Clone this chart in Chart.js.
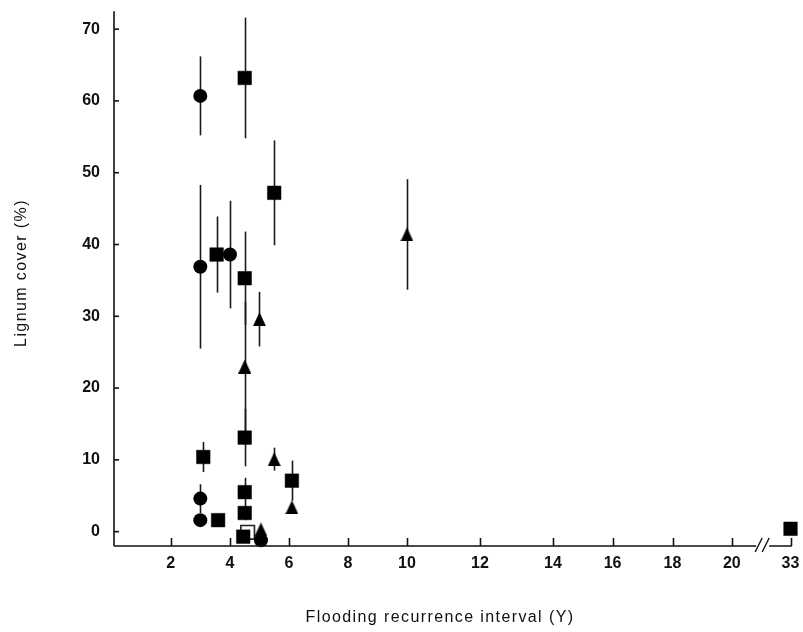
<!DOCTYPE html>
<html><head><meta charset="utf-8">
<script src="https://cdn.jsdelivr.net/npm/chart.js@4/dist/chart.umd.min.js"></script>
<style>html,body{margin:0;padding:0;background:#fff}#wrap{width:803px;height:632px;position:relative}</style>
</head><body><div id="wrap"><canvas id="c" width="803" height="632"></canvas></div>
<script>
// ---- data ----
const xTickValues = [2, 4, 6, 8, 10, 12, 14, 16, 18, 20, 33];
const yTickValues = [0, 10, 20, 30, 40, 50, 60, 70];

const circleX   = [3, 3, 4, 3, 3, 5.05];
const circleY   = [60.7, 36.9, 38.6, 4.6, 1.6, -1.2];
const circleErr = [5.5, 11.4, 7.5, 2.0, 0, 0];

const squareX   = [4.5, 5.5, 3.55, 4.5, 4.5, 3.1, 6.1, 4.5, 4.5, 3.6, 4.45, 33];
const squareY   = [63.2, 47.2, 38.6, 35.3, 13.1, 10.4, 7.1, 5.5, 2.6, 1.6, -0.7, 0.4];
const squareErr = [8.4, 7.3, 5.3, 6.5, 4.0, 2.1, 2.8, 2.0, 1.0, 0, 0, 0];

const openSquareX = [4.6];
const openSquareY = [-0.1];

const triangleX   = [10, 5.0, 4.5, 5.5, 6.1, 5.05];
const triangleY   = [41.4, 29.6, 23.0, 10.1, 3.4, 0.3];
const triangleErr = [7.7, 3.8, 9.0, 1.6, 0, 0];

// ---- axis calibration of the original (uneven, broken x axis) ----
const xKnotValues = [0, 2, 4, 6, 8, 10, 12, 14, 16, 18, 20, 33, 33.1];
const xKnotFracs  = [0, 0.0836, 0.1711, 0.2581, 0.3451, 0.4322, 0.5398, 0.6475, 0.7356, 0.8240, 0.9115, 0.9981, 1];

function interp(v, a, b) {
  if (v <= a[0]) return b[0] + (v - a[0]) * (b[1] - b[0]) / (a[1] - a[0]);
  for (let i = 1; i < a.length; i++) {
    if (v <= a[i]) return b[i - 1] + (v - a[i - 1]) * (b[i] - b[i - 1]) / (a[i] - a[i - 1]);
  }
  const n = a.length - 1;
  return b[n] + (v - a[n]) * (b[n] - b[n - 1]) / (a[n] - a[n - 1]);
}

class BrokenScale extends Chart.LinearScale {
  getPixelForValue(value) {
    return this.getPixelForDecimal(interp(value, xKnotValues, xKnotFracs));
  }
  getValueForPixel(pixel) {
    const d = (pixel - this._startPixel) / this._length;
    return interp(d, xKnotFracs, xKnotValues);
  }
}
BrokenScale.id = 'broken';
BrokenScale.defaults = Chart.LinearScale.defaults;
Chart.register(BrokenScale);

function pts(xs, ys, es) { return xs.map((x, i) => ({ x: x, y: ys[i], err: es ? es[i] : 0 })); }

const tri = document.createElement('canvas');
tri.width = 13; tri.height = 14;
(function () { const t = tri.getContext('2d'); t.fillStyle = '#000'; t.beginPath(); t.moveTo(6.5, 0); t.lineTo(13, 14); t.lineTo(0, 14); t.closePath(); t.fill(); })();

const INK = '#111';
const errorBars = {
  id: 'errorBars',
  beforeDatasetsDraw(chart) {
    const ctx = chart.ctx, xs = chart.scales.x, ys = chart.scales.y;
    ctx.save(); ctx.strokeStyle = '#1a1a1a'; ctx.lineWidth = 1.6;
    chart.data.datasets.forEach(ds => ds.data.forEach(p => {
      if (!p.err) return;
      const px = Math.round(xs.getPixelForValue(p.x)) + 0.5;
      ctx.beginPath();
      ctx.moveTo(px, ys.getPixelForValue(p.y + p.err));
      ctx.lineTo(px, ys.getPixelForValue(p.y - p.err));
      ctx.stroke();
    }));
    ctx.restore();
  }
};

const axesDraw = {
  id: 'axesDraw',
  afterDraw(chart) {
    const ctx = chart.ctx, a = chart.chartArea, xs = chart.scales.x, ys = chart.scales.y;
    ctx.save();
    ctx.strokeStyle = INK; ctx.lineWidth = 1.6;
    const by = a.bottom;
    // y axis
    ctx.beginPath(); ctx.moveTo(a.left, a.top); ctx.lineTo(a.left, by); ctx.stroke();
    yTickValues.forEach(v => { const py = ys.getPixelForValue(v); ctx.beginPath(); ctx.moveTo(a.left, py); ctx.lineTo(a.left + 5, py); ctx.stroke(); });
    // x axis with break
    const brk = (xs.getPixelForValue(20) + xs.getPixelForValue(33)) / 2;
    ctx.beginPath(); ctx.moveTo(a.left, by); ctx.lineTo(brk - 5, by); ctx.moveTo(brk + 8, by); ctx.lineTo(a.right, by); ctx.stroke();
    ctx.lineWidth = 1.4;
    ctx.beginPath();
    ctx.moveTo(brk - 6, by + 6); ctx.lineTo(brk + 1, by - 8);
    ctx.moveTo(brk + 1, by + 6); ctx.lineTo(brk + 8, by - 8);
    ctx.stroke();
    ctx.lineWidth = 1.6;
    xTickValues.forEach(v => { const px = Math.round(xs.getPixelForValue(v)) + 0.5; ctx.beginPath(); ctx.moveTo(px, by); ctx.lineTo(px, by - 8); ctx.stroke(); });
    // titles
    ctx.fillStyle = INK;
    ctx.font = '500 16px "Liberation Sans", Arial, sans-serif';
    ctx.letterSpacing = '1.4px';
    ctx.textAlign = 'center'; ctx.textBaseline = 'middle';
    ctx.fillText('Flooding recurrence interval (Y)', 440, 618);
    ctx.translate(22, 273);
    ctx.rotate(-Math.PI / 2);
    ctx.fillText('Lignum cover (%)', 0, 0);
    ctx.restore();
  }
};

new Chart(document.getElementById('c'), {
  type: 'scatter',
  data: {
    datasets: [
      { label: 'circles', data: pts(circleX, circleY, circleErr), pointStyle: 'circle', pointRadius: 7, backgroundColor: '#000', borderColor: '#000', borderWidth: 0, clip: false, order: 1 },
      { label: 'squares', data: pts(squareX, squareY, squareErr), pointStyle: 'rect', pointRadius: 9.6, backgroundColor: '#000', borderColor: '#000', borderWidth: 0.5, clip: false, order: 2 },
      { label: 'triangles', data: pts(triangleX, triangleY, triangleErr), pointStyle: tri, pointRadius: 7, backgroundColor: '#000', borderColor: '#000', clip: false, order: 0 },
      { label: 'open squares', data: pts(openSquareX, openSquareY), pointStyle: 'rect', pointRadius: 9.6, backgroundColor: '#fff', borderColor: '#222', borderWidth: 1.6, clip: false, order: 10 }
    ]
  },
  options: {
    responsive: false,
    animation: false,
    events: [],
    layout: { padding: { left: 0, right: 11, top: 8, bottom: 0 } },
    plugins: { legend: { display: false }, tooltip: { enabled: false } },
    scales: {
      x: {
        type: 'broken', min: 0, max: 33.1,
        afterBuildTicks: s => { s.ticks = xTickValues.map(v => ({ value: v })); },
        afterFit: s => { s.height = 86; s.paddingLeft = 0; s.paddingRight = 0; },
        grid: { display: false, drawTicks: false },
        border: { display: false },
        ticks: { autoSkip: false, maxRotation: 0, padding: 8, color: INK, font: { family: '"Liberation Sans", Arial, sans-serif', size: 16, weight: 'bold' }, callback: v => String(v) }
      },
      y: {
        type: 'linear', min: -2, max: 72.5,
        afterBuildTicks: s => { s.ticks = yTickValues.map(v => ({ value: v })); },
        afterFit: s => { s.width = 114; s.paddingTop = 0; s.paddingBottom = 0; },
        grid: { display: false, drawTicks: false },
        border: { display: false },
        ticks: { autoSkip: false, padding: 14, color: INK, font: { family: '"Liberation Sans", Arial, sans-serif', size: 16, weight: 'bold' }, callback: v => String(v) }
      }
    }
  },
  plugins: [errorBars, axesDraw]
});
</script>
</body></html>
